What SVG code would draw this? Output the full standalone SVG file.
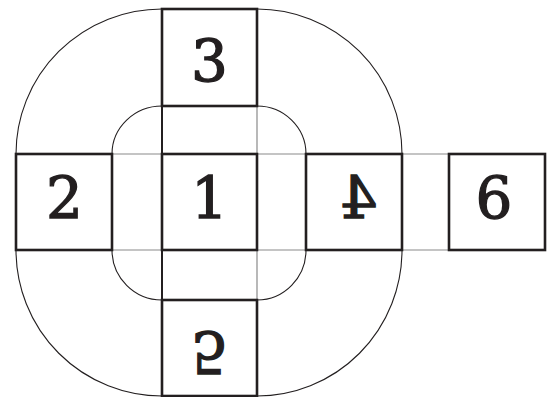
<svg xmlns="http://www.w3.org/2000/svg" width="555" height="397" viewBox="0 0 555 397">
<style>
.box{fill:none;stroke:#231f20;stroke-width:2.6}
.thin{fill:none;stroke:#8a8a8a;stroke-width:1.2}
.thk{fill:none;stroke:#231f20;stroke-width:2}
.arc{fill:none;stroke:#231f20;stroke-width:1.1}
.lbl{font-family:"DejaVu Serif","Liberation Serif",serif;font-size:58px;fill:#231f20;stroke:#231f20;stroke-width:1.3;text-anchor:middle}
</style>
<rect width="555" height="397" fill="#fff"/>
<g id="connectors">
<path class="arc" d="M16,154 A146,145 0 0 1 162,9"/>
<path class="arc" d="M257,9 A145,145 0 0 1 402,154"/>
<path class="arc" d="M402,250 A145,146 0 0 1 257,396"/>
<path class="arc" d="M162,396 A146,146 0 0 1 16,250"/>
<path class="arc" d="M112,154 A50,48 0 0 1 162,106"/>
<path class="arc" d="M257,106 A49,48 0 0 1 306,154"/>
<path class="arc" d="M306,250 A49,50 0 0 1 257,300"/>
<path class="arc" d="M162,300 A50,50 0 0 1 112,250"/>
<path class="thin" d="M112,154H162M257,154H306M402,154H449M112,250H162M257,250H306M402,250H449M257,106V154M257,250V300"/>
<path class="thk" d="M162,106V154M162,250V300"/>
</g>
<g id="node1"><rect class="box" x="162" y="154" width="95" height="96"/><text class="lbl" x="209.5" y="218">1</text></g>
<g id="node2"><rect class="box" x="16" y="154" width="96" height="96"/><text class="lbl" x="64.5" y="218">2</text></g>
<g id="node3"><rect class="box" x="162" y="9" width="95" height="97"/><text class="lbl" x="209.5" y="81">3</text></g>
<g id="node4"><rect class="box" x="306" y="154" width="96" height="96"/><text class="lbl" transform="translate(358.5,218) scale(-1,1)" x="0" y="0">4</text></g>
<g id="node5"><rect class="box" x="162" y="300" width="95" height="96"/><text class="lbl" transform="translate(209.5,332) scale(1,-1)" x="0" y="0">5</text></g>
<g id="node6"><rect class="box" x="449" y="154" width="96" height="96"/><text class="lbl" x="494" y="218">6</text></g>
</svg>
